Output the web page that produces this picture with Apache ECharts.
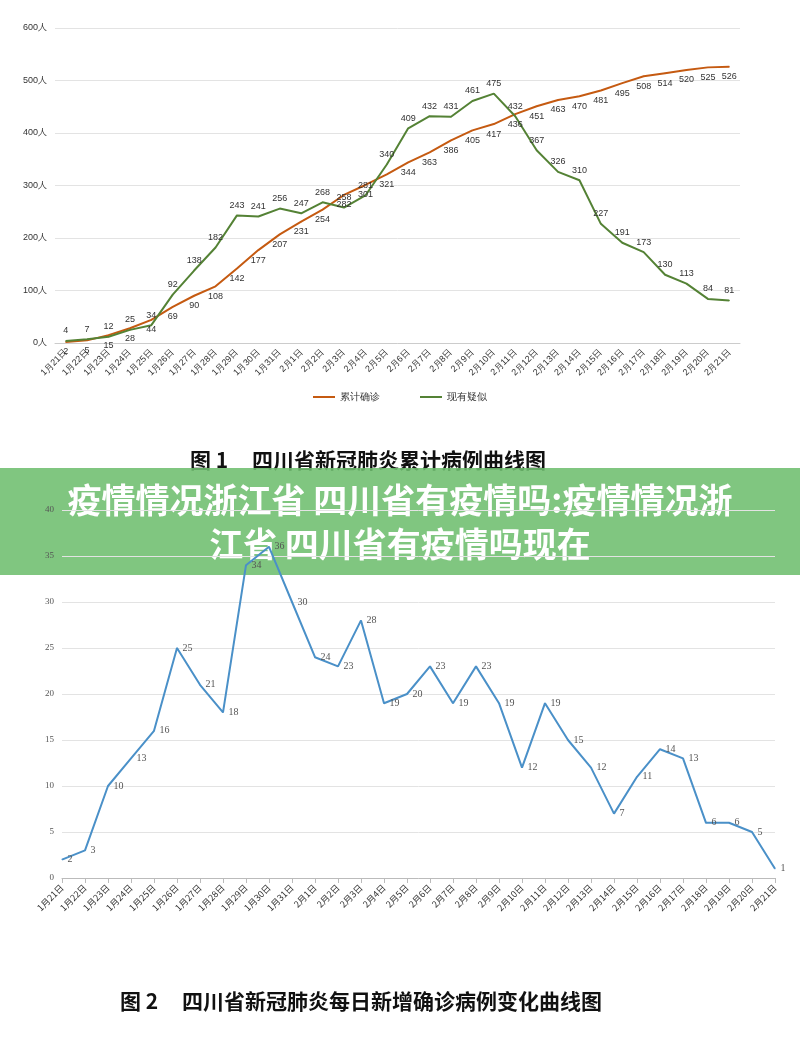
<!DOCTYPE html>
<html><head><meta charset="utf-8">
<script src="https://cdn.jsdelivr.net/npm/echarts@6/dist/echarts.min.js"></script>
<style>html,body{margin:0;background:#fff}#c{width:800px;height:1046px}</style>
</head><body><div id="c"></div>
<script>
const dates=['1月21日','1月22日','1月23日','1月24日','1月25日','1月26日','1月27日','1月28日','1月29日','1月30日','1月31日','2月1日','2月2日','2月3日','2月4日','2月5日','2月6日','2月7日','2月8日','2月9日','2月10日','2月11日','2月12日','2月13日','2月14日','2月15日','2月16日','2月17日','2月18日','2月19日','2月20日','2月21日'];
const cumulative=[2,5,15,28,44,69,90,108,142,177,207,231,254,282,301,321,344,363,386,405,417,436,451,463,470,481,495,508,514,520,525,526];
const suspected=[4,7,12,25,34,92,138,182,243,241,256,247,268,258,281,340,409,432,431,461,475,432,367,326,310,227,191,173,130,113,84,81];
const daily=[2,3,10,13,16,25,21,18,34,36,30,24,23,28,19,20,23,19,23,19,12,19,15,12,7,11,14,13,6,6,5,1];
const ch=echarts.init(document.getElementById('c'));
const lbl={fontSize:9,color:'#333'};
const hidden={symbol:'circle',symbolSize:1,showSymbol:true};
ch.setOption({
 animation:false,
 grid:[{left:55,right:60,top:28,height:315},{left:62,right:25,top:510,height:368}],
 legend:{top:387,left:'center',itemWidth:22,itemHeight:2,icon:'rect',textStyle:{fontSize:10,color:'#333'},itemGap:40},
 xAxis:[
  {gridIndex:0,type:'category',data:dates,boundaryGap:true,axisTick:{show:false},axisLine:{lineStyle:{color:'#ccc'}},axisLabel:{rotate:45,fontSize:9,color:'#333',interval:0}},
  {gridIndex:1,type:'category',data:dates,boundaryGap:false,axisTick:{show:true,lineStyle:{color:'#bbb'}},axisLine:{lineStyle:{color:'#bbb'}},axisLabel:{rotate:45,fontSize:9,color:'#333',interval:0,fontFamily:'Noto Sans CJK SC'}}
 ],
 yAxis:[
  {gridIndex:0,type:'value',min:0,max:600,interval:100,axisLabel:{formatter:'{value}人',fontSize:9,color:'#333'},splitLine:{lineStyle:{color:'#e3e3e3'}}},
  {gridIndex:1,type:'value',min:0,max:40,interval:5,axisLabel:{fontSize:9,color:'#555',fontFamily:'Liberation Serif'},splitLine:{lineStyle:{color:'#e3e3e3'}}}
 ],
 series:[
  {name:'累计确诊',type:'line',...hidden,xAxisIndex:0,yAxisIndex:0,data:cumulative,lineStyle:{color:'#c55a11',width:2},itemStyle:{color:'#c55a11'},label:{show:true,position:'bottom',...lbl}},
  {name:'现有疑似',type:'line',...hidden,xAxisIndex:0,yAxisIndex:0,data:suspected,lineStyle:{color:'#548235',width:2},itemStyle:{color:'#548235'},label:{show:true,position:'top',...lbl}},
  {type:'line',...hidden,xAxisIndex:1,yAxisIndex:1,data:daily,lineStyle:{color:'#4a90c8',width:2},itemStyle:{color:'#4a90c8'},label:{show:true,position:'right',fontSize:10,color:'#555',fontFamily:'Liberation Serif'}}
 ],
 graphic:[
  {type:'text',left:190,top:450,style:{text:'图 1     四川省新冠肺炎累计病例曲线图',font:'bold 21px "Noto Sans CJK SC"',fill:'#111'}},
  {type:'text',left:120,top:991,style:{text:'图 2     四川省新冠肺炎每日新增确诊病例变化曲线图',font:'bold 21px "Noto Sans CJK SC"',fill:'#111'}},
  {type:'rect',shape:{x:0,y:468,width:800,height:107},style:{fill:'rgba(110,190,110,0.88)'}},
  {type:'text',x:400,y:522,style:{text:'疫情情况浙江省 四川省有疫情吗:疫情情况浙\n江省 四川省有疫情吗现在',font:'bold 34px "Noto Sans CJK SC"',fill:'#fff',align:'center',verticalAlign:'middle',lineHeight:44}}
 ]
});
</script></body></html>
